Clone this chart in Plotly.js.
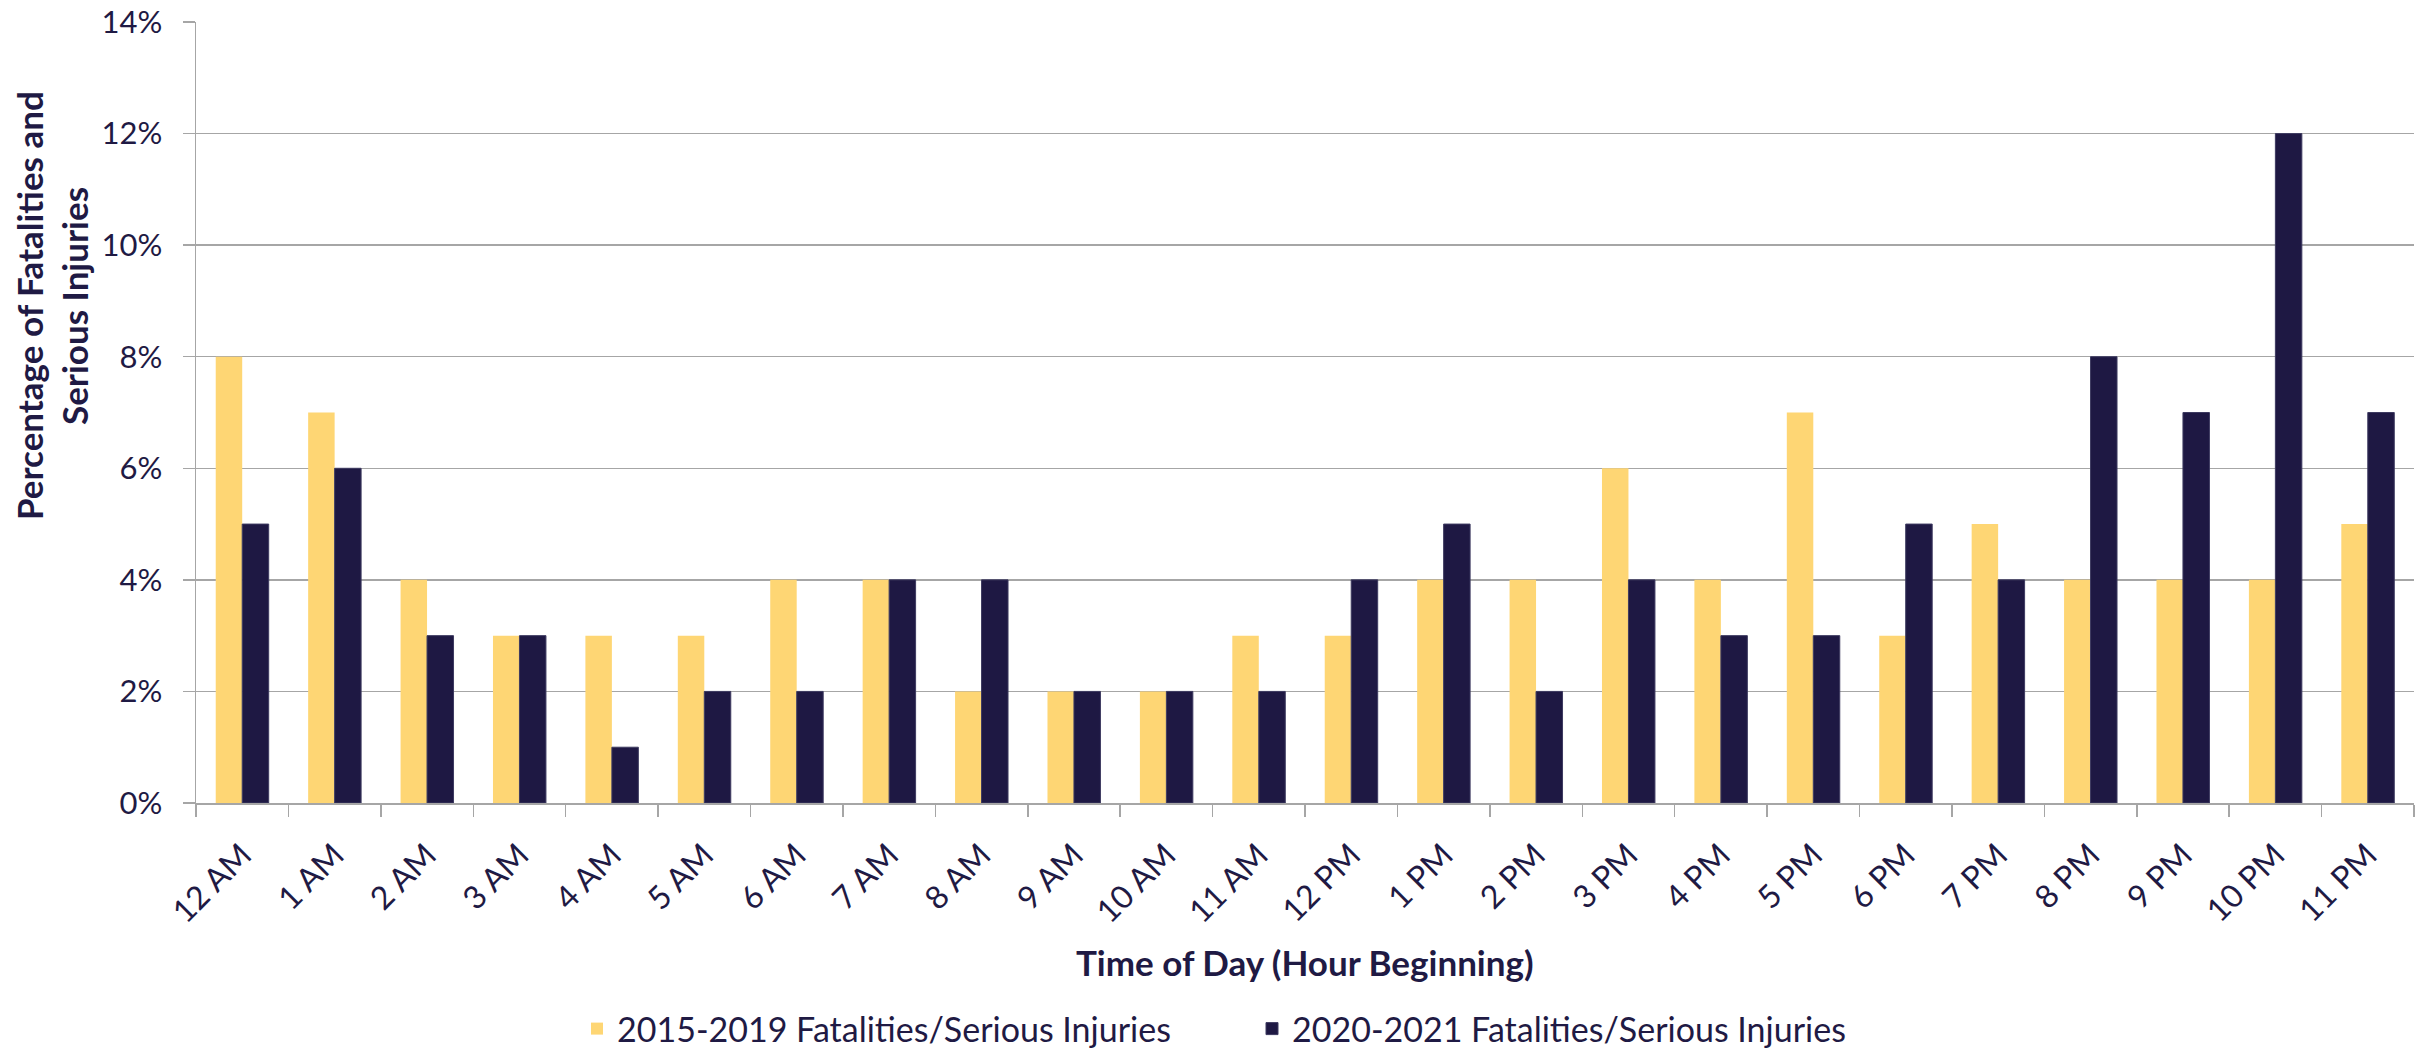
<!DOCTYPE html>
<html>
<head>
<meta charset="utf-8">
<script src="https://cdn.plot.ly/plotly-3.0.1.min.js"></script>
<style>
html, body { margin: 0; padding: 0; background: #ffffff; }
#chart { width: 2427px; height: 1058px; }
</style>
</head>
<body>
<div id="chart"></div>
<script>
// ---- data ----
const hours = ["12 AM", "1 AM", "2 AM", "3 AM", "4 AM", "5 AM", "6 AM", "7 AM", "8 AM", "9 AM", "10 AM", "11 AM",
               "12 PM", "1 PM", "2 PM", "3 PM", "4 PM", "5 PM", "6 PM", "7 PM", "8 PM", "9 PM", "10 PM", "11 PM"];
const pct2015to2019 = [8, 7, 4, 3, 3, 3, 4, 4, 2, 2, 2, 3, 3, 4, 4, 6, 4, 7, 3, 5, 4, 4, 4, 5];
const pct2020to2021 = [5, 6, 3, 3, 1, 2, 2, 4, 4, 2, 2, 2, 4, 5, 2, 4, 3, 3, 5, 4, 8, 7, 12, 7];
const seriesNames = ["2015-2019 Fatalities/Serious Injuries", "2020-2021 Fatalities/Serious Injuries"];
const yTickValues = [0, 2, 4, 6, 8, 10, 12, 14];
const xTitle = "Time of Day (Hour Beginning)";
const yTitleLines = ["Percentage of Fatalities and", "Serious Injuries"];

// ---- style ----
const FONT = "Lato, 'Open Sans', 'DejaVu Sans', sans-serif";
const TEXT = "#1f1a44";
const YELLOW = "#fed674";
const NAVY = "#1e1843";
const GRID = "#a6a6a6";

const traces = [
  {
    type: "bar", name: seriesNames[0], x: hours, y: pct2015to2019, legend: "legend",
    marker: { color: YELLOW, line: { width: 0 } },
    hoverinfo: "x+y+name"
  },
  {
    type: "bar", name: seriesNames[1], x: hours, y: pct2020to2021, legend: "legend2",
    marker: { color: NAVY, line: { color: "#3d3a60", width: 1 } },
    hoverinfo: "x+y+name"
  }
];

const W = 2427, H = 1058;
const mL = 196, mR = 13, mT = 22, mB = 255;
const pw = W - mL - mR, ph = H - mT - mB;
const px = (x) => (x - mL) / pw;
const py = (y) => (H - mB - y) / ph;

const legendBase = {
  orientation: "h", xanchor: "left", y: py(1058), yanchor: "bottom",
  font: { family: FONT, size: 34, color: TEXT },
  bgcolor: "rgba(0,0,0,0)", borderwidth: 0
};

const layout = {
  width: W, height: H, autosize: false,
  margin: { l: mL, r: mR, t: mT, b: mB, pad: 0, autoexpand: false },
  paper_bgcolor: "#ffffff", plot_bgcolor: "#ffffff",
  font: { family: FONT, color: TEXT, size: 31 },
  barmode: "group", bargap: 0.427, bargroupgap: 0,
  showlegend: true,
  legend: Object.assign({}, legendBase, { x: px(577) }),
  legend2: Object.assign({}, legendBase, { x: px(1252) }),
  xaxis: {
    type: "category", tickson: "boundaries", ticks: "outside", ticklen: 12,
    tickcolor: GRID, tickwidth: 1.5, showline: true, linecolor: GRID, linewidth: 1.5,
    showgrid: false, zeroline: false, tickangle: -45, automargin: false,
    ticklabelstandoff: 19,
    tickfont: { family: FONT, size: 32, color: TEXT }
  },
  yaxis: {
    range: [0, 14], tickvals: yTickValues, ticktext: yTickValues.map(v => v + "%"),
    ticks: "outside", ticklen: 12, tickcolor: GRID, tickwidth: 1.5,
    showline: true, linecolor: GRID, linewidth: 1.5, automargin: false,
    showgrid: true, gridcolor: GRID, gridwidth: 1.5, zeroline: false,
    ticklabelstandoff: 14,
    tickfont: { family: FONT, size: 31, color: TEXT }
  },
  annotations: [
    {
      xref: "paper", yref: "paper", x: px(29), y: py(306), xanchor: "center", yanchor: "middle",
      text: yTitleLines[0], textangle: -90, showarrow: false,
      font: { family: FONT, size: 35, color: TEXT, weight: "bold" }
    },
    {
      xref: "paper", yref: "paper", x: px(74), y: py(306), xanchor: "center", yanchor: "middle",
      text: yTitleLines[1], textangle: -90, showarrow: false,
      font: { family: FONT, size: 35, color: TEXT, weight: "bold" }
    },
    {
      xref: "paper", yref: "paper", x: px(1305), y: py(962), xanchor: "center", yanchor: "middle",
      text: xTitle, showarrow: false,
      font: { family: FONT, size: 35, color: TEXT, weight: "bold" }
    }
  ]
};

Plotly.newPlot("chart", traces, layout, { displayModeBar: false, staticPlot: true });
</script>
</body>
</html>
